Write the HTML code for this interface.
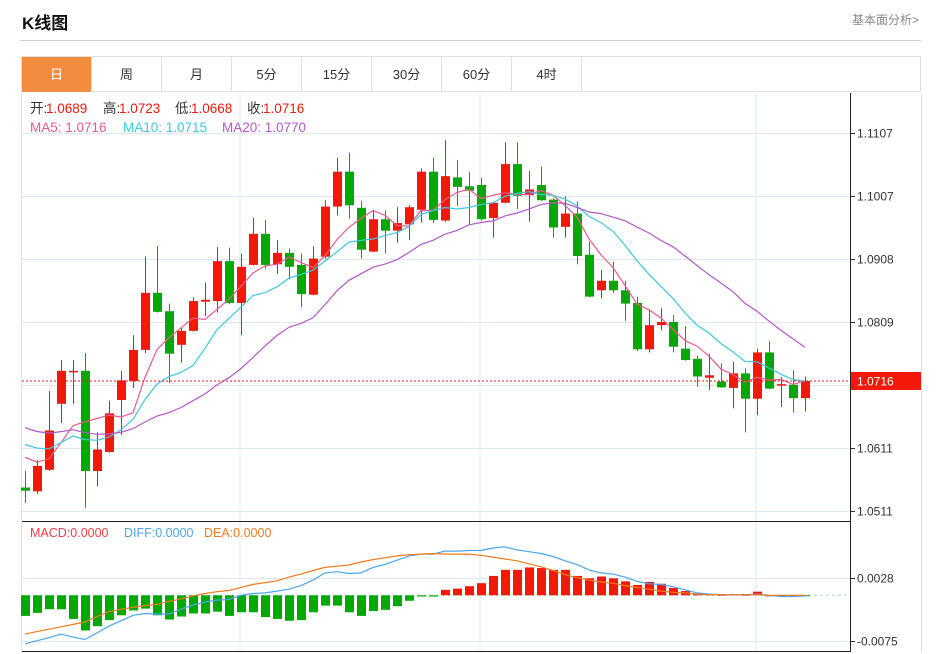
<!DOCTYPE html>
<html><head><meta charset="utf-8">
<style>
body{margin:0;background:#fff;width:936px;height:654px;overflow:hidden;font-family:"Liberation Sans","Noto Sans CJK SC",sans-serif;}
#title{position:absolute;left:22px;top:9px;font-size:17px;font-weight:bold;color:#111;}
#more{position:absolute;left:852px;top:11px;font-size:12px;color:#888;}
#hr{position:absolute;left:20px;top:40px;width:901px;height:1px;background:#d0d0d0;}
#tabs{position:absolute;left:21px;top:56px;width:900px;height:36px;border:1px solid #e0e0e0;box-sizing:border-box;}
.tab{position:absolute;top:0;height:35px;width:70px;line-height:35px;text-align:center;font-size:13px;color:#333;border-right:1px solid #e0e0e0;box-sizing:border-box;}
.tab.on{background:#f28c3f;color:#fff;}
svg{position:absolute;left:0;top:0;}
</style></head><body>
<div id="title">K线图</div>
<div id="more">基本面分析&gt;</div>
<div id="hr"></div>
<div id="tabs">
<div class="tab on" style="left:0">日</div>
<div class="tab" style="left:70px">周</div>
<div class="tab" style="left:140px">月</div>
<div class="tab" style="left:210px">5分</div>
<div class="tab" style="left:280px">15分</div>
<div class="tab" style="left:350px">30分</div>
<div class="tab" style="left:420px">60分</div>
<div class="tab" style="left:490px">4时</div>
</div>
<svg id="chart" width="936" height="654"></svg>
<script>
const opens=[1.0548,1.0542,1.0576,1.0680,1.0730,1.0732,1.0574,1.0604,1.0686,1.0716,1.0765,1.0855,1.0826,1.0773,1.0795,1.0841,1.0842,1.0905,1.0839,1.0899,1.0948,1.0900,1.0918,1.0899,1.0852,1.0912,1.0991,1.1046,1.0989,1.0920,1.0971,1.0953,1.0963,1.0986,1.1046,1.0969,1.1037,1.1023,1.1025,1.0973,1.0997,1.1058,1.1009,1.1025,1.1002,1.0959,1.0980,1.0915,1.0859,1.0874,1.0859,1.0839,1.0766,1.0804,1.0809,1.0767,1.0751,1.0721,1.0715,1.0705,1.0728,1.0688,1.0761,1.0709,1.0710,1.0689];
const closes=[1.0543,1.0582,1.0638,1.0732,1.0732,1.0574,1.0608,1.0665,1.0717,1.0765,1.0855,1.0825,1.0759,1.0795,1.0842,1.0844,1.0905,1.0839,1.0896,1.0948,1.0899,1.0918,1.0896,1.0853,1.0909,1.0991,1.1046,1.0993,1.0923,1.0971,1.0953,1.0965,1.0990,1.1046,1.0970,1.1039,1.1022,1.1016,1.0971,1.0997,1.1058,1.1008,1.1018,1.1001,1.0958,1.0980,1.0913,1.0849,1.0874,1.0859,1.0838,1.0766,1.0804,1.0809,1.0770,1.0749,1.0723,1.0725,1.0706,1.0728,1.0688,1.0761,1.0704,1.0711,1.0689,1.0716];
const highs=[1.0574,1.0591,1.0700,1.0749,1.0749,1.0760,1.0635,1.0685,1.0732,1.0788,1.0912,1.0929,1.0838,1.0801,1.0848,1.0871,1.0927,1.0926,1.0917,1.0973,1.0970,1.0938,1.0925,1.0917,1.0928,1.1001,1.1068,1.1076,1.1000,1.0986,1.0985,1.0990,1.0993,1.1051,1.1068,1.1096,1.1064,1.1046,1.1036,1.0998,1.1092,1.1092,1.1047,1.1054,1.1004,1.1007,1.0999,1.0936,1.0891,1.0904,1.0874,1.0849,1.0829,1.0831,1.0820,1.0802,1.0756,1.0759,1.0744,1.0746,1.0736,1.0767,1.0779,1.0722,1.0733,1.0723];
const lows=[1.0524,1.0538,1.0574,1.0650,1.0680,1.0516,1.0550,1.0603,1.0631,1.0705,1.0760,1.0824,1.0713,1.0745,1.0794,1.0818,1.0824,1.0837,1.0788,1.0898,1.0893,1.0885,1.0876,1.0832,1.0851,1.0909,1.0977,1.0972,1.0909,1.0919,1.0917,1.0934,1.0938,1.0966,1.0965,1.0967,1.0992,1.0963,1.0969,1.0942,1.0996,1.0987,1.0967,1.1000,1.0942,1.0942,1.0900,1.0848,1.0846,1.0855,1.0811,1.0763,1.0761,1.0796,1.0761,1.0748,1.0707,1.0702,1.0705,1.0673,1.0635,1.0662,1.0703,1.0675,1.0666,1.0668];
const priorCloses=[1.0700,1.0690,1.0685,1.0672,1.0668,1.0660,1.0655,1.0662,1.0650,1.0645,1.0640,1.0648,1.0635,1.0628,1.0630,1.0620,1.0612,1.0605,1.0598];
const diffVals=[-0.0080,-0.0075,-0.0070,-0.0064,-0.0069,-0.0073,-0.0062,-0.0051,-0.0042,-0.0033,-0.0030,-0.0031,-0.0031,-0.0023,-0.0016,-0.0011,-0.0008,-0.0007,0.0000,0.0003,0.0004,0.0007,0.0010,0.0016,0.0025,0.0037,0.0039,0.0036,0.0037,0.0046,0.0051,0.0058,0.0065,0.0068,0.0068,0.0073,0.0073,0.0074,0.0074,0.0078,0.0080,0.0075,0.0072,0.0069,0.0064,0.0057,0.0051,0.0042,0.0037,0.0035,0.0030,0.0023,0.0019,0.0018,0.0014,0.0009,0.0004,0.0002,0.0001,0.0001,0.0001,0.0002,0.0000,-0.0002,-0.0002,-0.0001];
const deaVals=[-0.0064,-0.0060,-0.0056,-0.0052,-0.0048,-0.0044,-0.0035,-0.0027,-0.0023,-0.0020,-0.0017,-0.0015,-0.0010,-0.0006,-0.0001,0.0003,0.0006,0.0008,0.0013,0.0018,0.0021,0.0024,0.0030,0.0035,0.0041,0.0046,0.0048,0.0050,0.0055,0.0059,0.0062,0.0065,0.0067,0.0068,0.0069,0.0068,0.0068,0.0068,0.0066,0.0063,0.0060,0.0057,0.0052,0.0047,0.0041,0.0034,0.0029,0.0025,0.0022,0.0020,0.0016,0.0013,0.0010,0.0007,0.0005,0.0004,0.0002,0.0001,0.0001,0.0001,0.0001,0.0001,0.0000,0.0000,0.0000,0.0000];
const macdVals=[-0.0034,-0.0029,-0.0023,-0.0023,-0.0039,-0.0058,-0.0051,-0.0041,-0.0033,-0.0025,-0.0022,-0.0033,-0.0040,-0.0035,-0.0030,-0.0030,-0.0027,-0.0034,-0.0028,-0.0028,-0.0036,-0.0039,-0.0042,-0.0041,-0.0028,-0.0017,-0.0017,-0.0028,-0.0034,-0.0026,-0.0024,-0.0018,-0.0009,-0.0002,-0.0002,0.0009,0.0011,0.0015,0.0020,0.0032,0.0042,0.0042,0.0046,0.0045,0.0042,0.0042,0.0032,0.0028,0.0031,0.0028,0.0023,0.0017,0.0022,0.0019,0.0012,0.0007,0.0003,0.0002,0.0001,0.0002,0.0001,0.0006,-0.0001,-0.0002,-0.0002,-0.0001];
const priceTicks=[1.1107,1.1007,1.0908,1.0809,1.0710,1.0611,1.0511];
const macdTicks=[0.0028,-0.0075];
const lastPrice=1.0716;

const svg=document.getElementById('chart');
const NS='http://www.w3.org/2000/svg';
function mk(tag,attrs,parent){const e=document.createElementNS(NS,tag);for(const k in attrs)e.setAttribute(k,attrs[k]);(parent||svg).appendChild(e);return e;}
const L=22,R=850,TOP=93,MID=521,BOT=652;
const yP=v=>133+(1.1107-v)*6342;
const yM=v=>595.3-v*6058;
const xC=i=>25+i*12;
const RED='#f2190a',GREEN='#04a804';

[240,480,756].forEach(x=>{const g=mk('line',{x1:x,x2:x,y1:TOP,y2:BOT,stroke:'#dde8f0','stroke-width':1});

});
priceTicks.forEach(t=>{const y=Math.round(yP(t))+0.5;
const g=mk('line',{x1:L,x2:R,y1:y,y2:y,stroke:'#dde8f0','stroke-width':1});


mk('line',{x1:R,x2:R+5,y1:y,y2:y,stroke:'#333'});
const tx=mk('text',{x:857,y:y+4,'font-size':12,fill:'#333'});tx.textContent=t.toFixed(4);

});
macdTicks.forEach(t=>{const y=Math.round(yM(t))+0.5;
const g=mk('line',{x1:L,x2:R,y1:y,y2:y,stroke:'#dde8f0','stroke-width':1});


mk('line',{x1:R,x2:R+5,y1:y,y2:y,stroke:'#333'});
const tx=mk('text',{x:857,y:y+4,'font-size':12,fill:'#333'});tx.textContent=t.toFixed(4);

});
mk('line',{x1:21.5,x2:21.5,y1:TOP,y2:BOT,stroke:'#e0e0e0'});
mk('line',{x1:921.5,x2:921.5,y1:TOP,y2:BOT,stroke:'#e0e0e0'});
mk('line',{x1:L,x2:R,y1:MID+0.5,y2:MID+0.5,stroke:'#222'});
mk('line',{x1:L,x2:R,y1:BOT-0.5,y2:BOT-0.5,stroke:'#222'});
const ax=mk('line',{x1:R+0.5,x2:R+0.5,y1:TOP,y2:BOT,stroke:'#222'});



for(let i=0;i<opens.length;i++){
 const o=opens[i],c=closes[i],up=c>=o,col=up?RED:GREEN,x=xC(i);
 const g=mk('g',{});
 
 
 mk('line',{x1:x+0.5,x2:x+0.5,y1:yP(highs[i]),y2:yP(lows[i]),stroke:col,'stroke-width':1},g);
 const t=yP(Math.max(o,c)),b=yP(Math.min(o,c));
 mk('rect',{x:x-4,y:t,width:9,height:Math.max(1.5,b-t),fill:col},g);
}
const all=priorCloses.concat(closes);
function ma(n){const out=[];for(let i=0;i<closes.length;i++){const j=i+priorCloses.length;let s=0,k=0;for(let m=Math.max(0,j-n+1);m<=j;m++){s+=all[m];k++;}out.push(s/k);}return out;}
[[5,'#ec5a8a','ma5-line'],[10,'#3ec8e0','ma10-line'],[20,'#b458c8','ma20-line']].forEach(([n,col,name])=>{
 const v=ma(n);const p=mk('polyline',{points:v.map((a,i)=>xC(i)+','+yP(a).toFixed(1)).join(' '),fill:'none',stroke:col,'stroke-width':1.2});
 
 
});
const ly=yP(lastPrice);
const pl=mk('line',{x1:L,x2:R,y1:ly,y2:ly,stroke:RED,'stroke-dasharray':'2,2','stroke-width':1});


const lb=mk('rect',{x:R+1,y:ly-9,width:70,height:18,fill:RED});


const lt=mk('text',{x:857,y:ly+4.5,'font-size':12,fill:'#fff'});lt.textContent=lastPrice.toFixed(4);

const z=yM(0);
const zl=mk('line',{x1:L,x2:R-4,y1:z,y2:z,stroke:'#a8d8ec','stroke-dasharray':'3,3'});


macdVals.forEach((v,i)=>{const y=yM(v);const r=mk('rect',{x:xC(i)-4,y:Math.min(y,z),width:9,height:Math.max(1,Math.abs(y-z)),fill:v>=0?RED:GREEN});

});
[[diffVals,'#4aa6ee','diff-line'],[deaVals,'#f27a1e','dea-line']].forEach(([arr,col,name])=>{
 const p=mk('polyline',{points:arr.map((a,i)=>xC(i)+','+yM(a).toFixed(1)).join(' '),fill:'none',stroke:col,'stroke-width':1.2});
 
 
});

function leg(y,size,parts,name){const g=mk('g',{});


parts.forEach(([x,s,col])=>{const t=mk('text',{x:x,y:y,'font-size':size,fill:col},g);t.textContent=s;});}
const last=opens.length-1;
leg(113,13.5,[[30,'开:','#333'],[46,opens[last].toFixed(4),RED],[103,'高:','#333'],[119,highs[last].toFixed(4),RED],[175,'低:','#333'],[191,lows[last].toFixed(4),RED],[247,'收:','#333'],[263,closes[last].toFixed(4),RED]],'ohlc-legend');
leg(132,13.5,[[30,'MA5: 1.0716','#ec5a8a'],[123,'MA10: 1.0715','#3ec8e0'],[222,'MA20: 1.0770','#b458c8']],'ma-legend');
leg(537,12.5,[[30,'MACD:0.0000','#f04040'],[124,'DIFF:0.0000','#4aa6ee'],[204,'DEA:0.0000','#f27a1e']],'macd-legend');
</script>
</body></html>
